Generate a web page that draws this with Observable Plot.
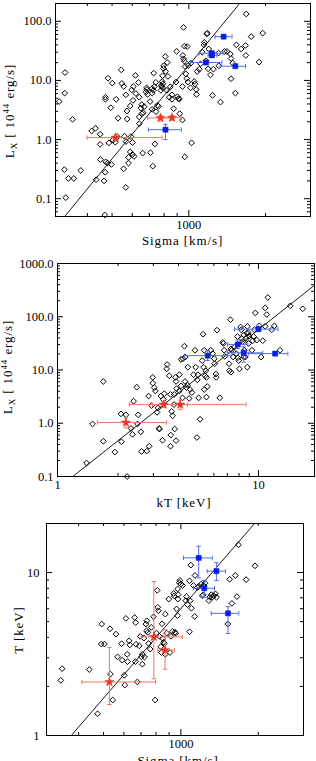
<!DOCTYPE html>
<html>
<head>
<meta charset="utf-8">
<script src="https://cdn.jsdelivr.net/npm/d3@7"></script>
<script src="https://cdn.jsdelivr.net/npm/@observablehq/plot@0.6"></script>
<style>
  html, body { margin: 0; padding: 0; background: #fff; }
  #page { position: relative; width: 316px; height: 761px; overflow: hidden; background: #fff; }
  #page svg { position: absolute; left: 0; }
</style>
</head>
<body>
<div id="page"></div>
<script>
// ---- Lx versus velocity dispersion (sigma in km/s, Lx in 1e44 erg/s) ----
const sigmaLxClusters = [
  [310,4.4],[326,6.1],[327,13.6],[350,2.2],[325,0.31],[337,0.22],[354,0.22],[329,0.104],[377,0.30],
  [416,1.4],[430,1.55],[450,0.46],[449,0.83],[449,1.23],[433,0.21],[465,0.20],[470,0.28],[472,0.42],
  [480,0.40],[497,0.38],[471,5.2],[471,4.8],[482,10.9],[501,9.0],[494,3.46],[519,4.8],[528,2.3],
  [504,0.975],[515,0.90],[486,0.88],[525,1.11],[543,15.1],[546,8.9],[556,7.9],[572,3.04],[573,2.23],
  [559,1.14],[567,0.925],[593,1.12],[601,0.89],[597,6.9],[606,7.9],[617,12.2],[634,9.2],[620,6.0],
  [604,4.6],[589,3.7],[566,5.7],[555,0.32],[566,0.155],[580,0.50],[580,0.40],[589,0.62],[601,0.56],
  [610,0.52],[639,2.41],[639,1.86],[639,5.2],[648,3.4],[654,3.9],[655,2.74],[662,2.85],[668,3.6],
  [683,7.5],[685,7.0],[689,5.8],[705,4.4],[718,6.1],[718,3.25],[728,13.3],[733,7.9],[742,9.3],
  [744,2.97],[753,3.8],[760,3.65],[777,6.8],[789,12.0],[791,8.8],[789,7.5],[786,9.6],[796,15.9],
  [796,17.7],[808,25.4],[823,20.1],[810,14.2],[820,6.8],[828,11.7],[838,5.2],[846,7.8],[859,4.8],
  [859,5.7],[872,3.33],[891,9.4],[896,31],[902,5.3],[910,4.9],[918,4.85],[921,2.74],[944,2.14],
  [953,23.2],[953,79],[944,7.9],[947,26.5],[961,38],[961,21.2],[967,17.2],[973,12.9],[982,10.8],
  [985,37.5],[994,17.9],[991,9.4],[1018,19.6],[1015,7.5],[1025,0.88],[1050,9.6],[1056,8.7],[1069,7.0],
  [1072,5.8],[1079,14.2],[1099,15.5],[1112,19.1],[1129,30],[1147,40],[1150,44],[1175,61],[1197,34],
  [1182,63],[1168,21.5],[1190,15.7],[1215,12.4],[1238,5.6],[1249,15.5],[1307,29],[1311,17.7],
  [1331,4.3],[1381,31],[1411,31],[1455,28],[1464,23.5],[1486,19.6],[1522,6.1],[1464,10.7],[1536,40],
  [1604,34],[1668,39],[1679,133],[1673,26.5],[1756,55],[1949,63],[1885,20.4],[964,0.51],[707,0.60],
  [722,0.355],[736,0.845],[468,0.053],[779,8.2],[784,7.9],[680,6.4],[718,7.3],[726,6.8],[659,0.59]
];
// [sigma, Lx, sigmaLow, sigmaHigh, LxLow, LxHigh]
const sigmaLxRed = [
  [516,1.08,399,786,0.95,1.23],[774,2.32,689,867,2.06,2.57],[859,2.35,786,935,2.12,2.57]
];
const sigmaLxBlue = [
  [810,1.47,694,935,1.0,1.81],[1369,55,1268,1477,52,58],[1230,28.9,1099,1360,27,31],
  [1232,26.5,1190,1290,25,28],[1168,20.1,1015,1348,19,21.2],[1522,17.4,1328,1668,16.5,18.3]
];
const sigmaLxFit = {norm: 18, pivot: 1000, slope: 5.25};

// ---- Lx versus temperature (kT in keV) ----
const kTLxClusters = [
  [1.395,0.179],[1.494,0.97],[1.689,6.09],[1.69,0.459],[1.93,0.287],[2.08,0.45],[2.19,1.44],[2.32,0.80],
  [2.36,0.62],[2.39,2.6],[2.48,4.75],[2.50,0.97],[2.52,1.44],[2.62,0.295],[2.60,0.69],[2.78,0.30],
  [2.86,0.37],[2.84,3.24],[2.94,2.15],[2.98,5.65],[2.98,7.26],[3.03,4.68],[3.07,4.04],[3.13,1.6],
  [3.16,1.94],[3.22,0.78],[3.27,3.24],[3.36,2.8],[3.40,3.59],[3.49,10.5],[3.51,12.7],[3.60,7.8],
  [3.65,3.48],[3.70,1.67],[3.74,1.38],[3.66,0.60],[3.83,0.78],[3.80,2.24],[3.81,3.48],[3.86,7.27],
  [3.89,6.09],[3.91,4.47],[4.04,8.17],[4.12,5.04],[4.04,4.04],[4.19,3.0],[4.12,15.8],[4.21,16.3],
  [4.28,28],[4.32,17.5],[4.31,6.1],[4.38,4.67],[4.44,5.2],[4.45,11.3],[4.52,2.92],[4.57,4.3],
  [4.66,3.76],[4.75,8.17],[4.83,23.5],[4.87,11.3],[4.96,6.55],[5.0,8.17],[5.04,3.0],[5.12,1.19],
  [4.94,0.54],[5.3,47],[5.37,23.5],[5.25,15],[5.33,11.3],[5.47,9.7],[5.42,7.8],[5.51,7.27],[5.56,4.88],
  [5.37,4.3],[5.51,3.1],[5.79,23.5],[5.92,20.3],[6.03,16.3],[6.05,13.1],[6.14,8.4],[6.16,7.27],
  [6.22,56],[6.42,3.0],[6.64,33],[6.7,31.6],[6.75,23.5],[6.8,18],[7.3,25],[7.25,88],[7.14,13.1],
  [7.16,9.7],[7.48,17.5],[7.59,27],[7.75,20.3],[7.9,17],[7.97,15],[8.04,10.5],[8.15,64],[8.21,57],
  [8.27,39],[8.35,34],[8.44,45.5],[8.5,23.5],[8.6,17.5],[8.66,39],[8.75,49],[8.8,11.3],[8.98,43.5],
  [8.8,66],[9.36,35.5],[9.54,57],[9.65,118],[9.8,36.4],[10.1,67.5],[10.5,35.5],[10.8,147],[11.0,110],
  [11.13,230],[12.0,67.5],[12.8,23.5],[14.4,160],[16.6,141],[10.3,17.5],[11.65,57],[10.8,66],
  [9.28,23.5],[8.44,17.5],[7.3,9.1],[7.35,23.5],[7.86,42.4],[8.93,31.5],[9.45,42.4],[8.9,50],
  [3.2,0.8],[2.07,1.5],[3.65,0.37],[3.33,0.48],[3.89,0.47],[2.22,0.1]
];
// [kT, Lx, kTLow, kTHigh, LxLow, LxHigh]
const kTLxRed = [
  [2.19,1.03,1.58,3.49,0.82,1.25],[3.38,2.24,2.28,4.44,1.99,2.52],[4.08,2.24,2.97,8.68,1.80,2.72]
];
const kTLxBlue = [
  [5.59,18.6,4.28,7.3,15.1,23.5],[7.89,30.2,7.03,8.85,25.3,36.6],[8.44,21,7.0,10.5,14,27.3],
  [12.1,20.3,8.9,14.0,19.2,22],[10.0,58.5,7.6,12.5,52.9,65.9]
];
const kTLxFit = {norm: 0.0594, pivot: 1, slope: 2.985};

// ---- T versus velocity dispersion ----
const sigmaTClusters = [
  [341,2.18],[345,2.57],[440,2.54],[474,1.36],[492,4.83],[490,3.64],[504,3.64],[530,4.52],[532,2.38],
  [543,1.65],[559,4.19],[567,3.04],[588,3.66],[591,2.9],[602,2.34],[605,2.04],[611,5.23],[618,3.15],
  [620,2.84],[629,3.81],[633,3.6],[661,5.3],[667,4.93],[665,2.84],[669,3.63],[677,2.13],[689,3.55],
  [695,4.06],[702,3.04],[708,2.74],[708,3.15],[718,3.96],[722,3.03],[731,4.83],[735,4.39],[737,5.06],
  [744,4.29],[749,3.67],[760,3.39],[767,4.61],[783,5.35],[794,1.65],[804,4.25],[809,7.78],[813,6.12],
  [818,5.83],[825,4.06],[835,3.51],[840,3.23],[845,4.85],[850,3.94],[857,3.74],[862,3.67],[870,5.56],
  [870,3.15],[881,4.25],[897,6.87],[907,3.23],[915,4.06],[929,4.35],[937,7.43],[942,7.18],[948,4.3],
  [954,4.25],[962,5.98],[971,5.44],[974,6.87],[976,7.32],[971,7.93],[986,8.66],[991,8.95],[1000,8.5],
  [1015,8.33],[1045,6.72],[1051,7.12],[1061,6.36],[1080,8.9],[1086,6.72],[1093,11.1],[1099,6.04],
  [1119,8.33],[1132,5.38],[1135,9.6],[1080,4.33],[1159,8.1],[1176,8.23],[1200,8.5],[1211,7.2],
  [1229,8.3],[1240,8.6],[1285,6.72],[1296,7.06],[1313,7.32],[1324,7.06],[1343,7.2],[1363,7.4],
  [1376,7.06],[1522,4.83],[1548,9.1],[1580,6.47],[1628,9.6],[1652,7.12],[1676,14.8],[1795,9.05],
  [1943,11.0],[1222,7.3]
];
// [sigma, T, sigmaLow, sigmaHigh, TLow, THigh]
const sigmaTRed = [
  [527,2.13,412,797,1.55,3.47],[785,4.03,702,1015,2.23,8.8],[868,3.34,813,943,2.55,4.45]
];
const sigmaTBlue = [
  [1173,12.3,1024,1324,9.27,14.5],[1375,10.2,1266,1490,8.93,11.5],[1233,8.01,1119,1351,7.05,8.93],
  [1525,5.62,1313,1681,4.23,6.17]
];
const sigmaTFit = {norm: 6.0, pivot: 1000, slope: 1.825};

// ---- axis ticks and labels ----
const sigmaMajor = [1000];
const sigmaMinor = [400, 500, 600, 700, 800, 900, 2000];
const sigmaLabels = ["1000"];
const lxMajor1 = [0.1, 1, 10, 100];
const lxLabels1 = ["0.1", "1.0", "10.0", "100.0"];
const kTMajor = [1, 10];
const kTLabels = ["1", "10"];
const lxMajor2 = [0.1, 1, 10, 100, 1000];
const lxLabels2 = ["0.1", "1.0", "10.0", "100.0", "1000.0"];
const tMajor = [1, 10];
const tLabels = ["1", "10"];

// minor ticks 2..9 within each decade, kept inside the domain
function decadeMinors(lo, hi) {
  const out = [];
  for (let e = Math.floor(Math.log10(lo)); e <= Math.ceil(Math.log10(hi)); e++) {
    for (let m = 2; m <= 9; m++) {
      const v = m * Math.pow(10, e);
      if (v > lo * 1.001 && v < hi * 0.999) out.push(v);
    }
  }
  return out;
}

const RED = "rgb(236,52,36)", RED_LIGHT = "rgb(240,118,96)";
const BLUE = "rgb(10,30,225)", BLUE_LIGHT = "rgb(80,110,235)";
const FONT = '"Liberation Serif", "DejaVu Serif", serif';

// short line symbols for error-bar caps
const capV = {draw(ctx) { ctx.moveTo(0, -2.2); ctx.lineTo(0, 2.2); }};
const capH = {draw(ctx) { ctx.moveTo(-2.2, 0); ctx.lineTo(2.2, 0); }};

function errorMarks(rows, light, solid, symbol, r) {
  const data = rows.map(([x, y, xlo, xhi, ylo, yhi]) => ({x, y, xlo, xhi, ylo, yhi}));
  const cap = {stroke: light, fill: "none", strokeWidth: 1};
  return [
    Plot.ruleY(data, {y: "y", x1: "xlo", x2: "xhi", stroke: light, strokeWidth: 1}),
    Plot.ruleX(data, {x: "x", y1: "ylo", y2: "yhi", stroke: light, strokeWidth: 1}),
    Plot.dot(data, {x: "xlo", y: "y", symbol: capV, ...cap}),
    Plot.dot(data, {x: "xhi", y: "y", symbol: capV, ...cap}),
    Plot.dot(data, {x: "x", y: "ylo", symbol: capH, ...cap}),
    Plot.dot(data, {x: "x", y: "yhi", symbol: capH, ...cap}),
    Plot.dot(data, {x: "x", y: "y", symbol, r, fill: solid, stroke: solid, strokeWidth: 0.5})
  ];
}

function panel(c) {
  const innerW = c.width - c.ml - c.mr;
  const innerH = c.height - c.mt - c.mb;
  const xMinor = c.xMinor, yMinor = decadeMinors(c.yDomain[0], c.yDomain[1]);
  const fitLine = c.xDomain.map(x => ({x, y: c.fit.norm * Math.pow(x / c.fit.pivot, c.fit.slope)}));
  const tick = {stroke: "#000", strokeWidth: 1};
  const svg = Plot.plot({
    width: c.width, height: c.height,
    marginTop: c.mt, marginBottom: c.mb, marginLeft: c.ml, marginRight: c.mr,
    x: {type: "log", domain: c.xDomain, axis: null},
    y: {type: "log", domain: c.yDomain, axis: null},
    style: {fontFamily: FONT, fontSize: "12.5px", color: "#000", background: "transparent", overflow: "visible"},
    marks: [
      // inward tick marks on all four sides
      Plot.tickX(xMinor, {x: d => d, insetTop: innerH - 3, ...tick}),
      Plot.tickX(xMinor, {x: d => d, insetBottom: innerH - 3, ...tick}),
      Plot.tickX(c.xMajor, {x: d => d, insetTop: innerH - 6, ...tick}),
      Plot.tickX(c.xMajor, {x: d => d, insetBottom: innerH - 6, ...tick}),
      Plot.tickY(yMinor, {y: d => d, insetRight: innerW - 3, ...tick}),
      Plot.tickY(yMinor, {y: d => d, insetLeft: innerW - 3, ...tick}),
      Plot.tickY(c.yMajor, {y: d => d, insetRight: innerW - 6, ...tick}),
      Plot.tickY(c.yMajor, {y: d => d, insetLeft: innerW - 6, ...tick}),
      Plot.frame({stroke: "#000", strokeWidth: 1}),
      // tick labels
      Plot.text(c.xMajor, {x: d => d, frameAnchor: "bottom", dy: 12.5, text: (d, i) => c.xLabels[i], fill: "#000"}),
      Plot.text(c.yMajor, {y: d => d, frameAnchor: "left", dx: -c.yPad, textAnchor: "end", text: (d, i) => c.yLabels[i], fill: "#000"}),
      // regression line
      Plot.line(fitLine, {x: "x", y: "y", stroke: "#000", strokeWidth: 0.9, clip: true}),
      // cluster sample
      Plot.dot(c.points, {x: d => d[0], y: d => d[1], symbol: "diamond2", r: 2.6, stroke: "#000", fill: "none", strokeWidth: 1}),
      ...errorMarks(c.red, RED_LIGHT, RED, "star", 2.9),
      ...errorMarks(c.blue, BLUE_LIGHT, BLUE, "square", 2.9)
    ]
  });
  svg.style.top = c.top + "px";
  return svg;
}

const page = document.getElementById("page");

page.appendChild(panel({
  top: 0, width: 316, height: 250, mt: 3, mb: 34, ml: 55, mr: 6,
  xDomain: [300, 3000], yDomain: [0.05, 200],
  xMajor: sigmaMajor, xMinor: sigmaMinor, xLabels: sigmaLabels,
  yMajor: lxMajor1, yLabels: lxLabels1, yPad: 4,
  points: sigmaLxClusters, red: sigmaLxRed, blue: sigmaLxBlue, fit: sigmaLxFit
}));

page.appendChild(panel({
  top: 250, width: 316, height: 260, mt: 13, mb: 34, ml: 57, mr: 2,
  xDomain: [1, 19], yDomain: [0.1, 1000],
  xMajor: kTMajor, xMinor: decadeMinors(1, 19), xLabels: kTLabels,
  yMajor: lxMajor2, yLabels: lxLabels2, yPad: 4,
  points: kTLxClusters, red: kTLxRed, blue: kTLxBlue, fit: kTLxFit
}));

page.appendChild(panel({
  top: 510, width: 316, height: 251, mt: 13, mb: 26, ml: 46, mr: 13,
  xDomain: [300, 3000], yDomain: [1, 20],
  xMajor: sigmaMajor, xMinor: sigmaMinor, xLabels: sigmaLabels,
  yMajor: tMajor, yLabels: tLabels, yPad: 7,
  points: sigmaTClusters, red: sigmaTRed, blue: sigmaTBlue, fit: sigmaTFit
}));

// axis titles (sub- and superscripts need tspans)
const titles = d3.select(page).append("svg")
  .attr("width", 316).attr("height", 761)
  .style("top", "0px").style("pointer-events", "none")
  .style("font-family", FONT).style("font-size", "13px").style("letter-spacing", "0.9px");

function xTitle(x, y, s) {
  titles.append("text").attr("x", x).attr("y", y).attr("text-anchor", "middle").text(s);
}
function lxTitle(x, y) {
  const t = titles.append("text").attr("transform", `translate(${x},${y}) rotate(-90)`).attr("text-anchor", "middle");
  t.append("tspan").text("L");
  t.append("tspan").attr("dy", 3).attr("font-size", "9px").text("X");
  t.append("tspan").attr("dy", -3).text(" [ 10");
  t.append("tspan").attr("dy", -5).attr("font-size", "9px").text("44");
  t.append("tspan").attr("dy", 5).text(" erg/s]");
}

xTitle(182.5, 244.5, "Sigma [km/s]");
lxTitle(13.5, 111);
xTitle(184, 507, "kT [keV]");
lxTitle(12, 367);
xTitle(178, 765, "Sigma [km/s]");
titles.append("text").attr("transform", "translate(23,630) rotate(-90)").attr("text-anchor", "middle").text("T [keV]");
</script>
</body>
</html>
